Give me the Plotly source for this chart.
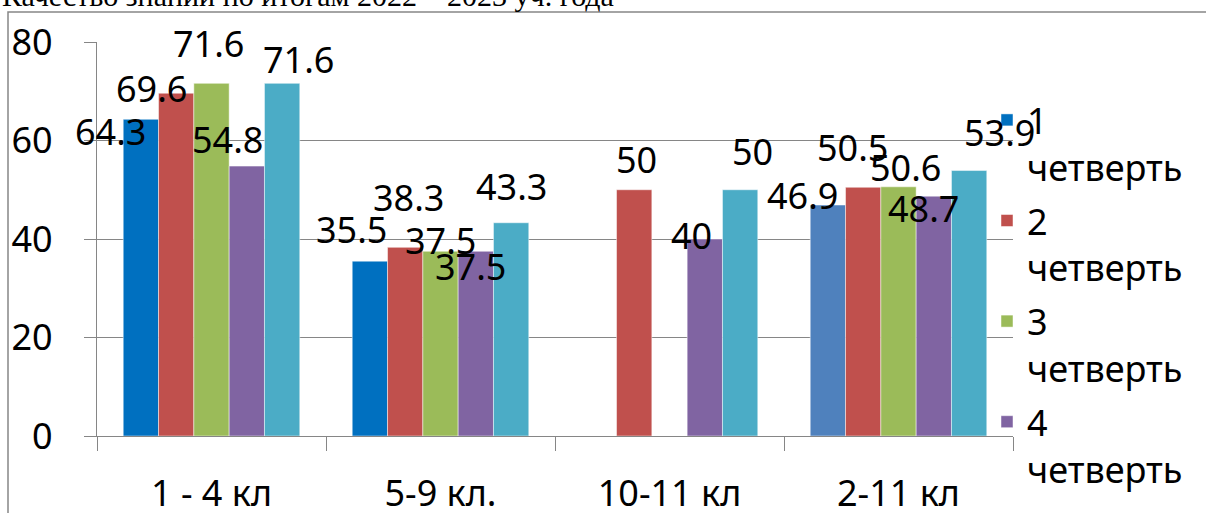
import plotly.graph_objects as go

categories = ["1 - 4 кл", "5-9 кл.", "10-11 кл", "2-11 кл"]
series_names = ["1 четверть", "2 четверть", "3 четверть", "4 четверть", "год"]
q1 = [64.3, 35.5, None, 46.9]
q2 = [69.6, 38.3, 50, 50.5]
q3 = [71.6, 37.5, None, 50.6]
q4 = [54.8, 37.5, 40, 48.7]
year = [71.6, 43.3, 50, 53.9]
values = [q1, q2, q3, q4, year]

title_text = "Качество знаний по итогам 2022 – 2023 уч. года"

# styles
q1_colors = ["#0070C0", "#0070C0", "#0070C0", "#4F81BD"]
colors = [q1_colors, "#C0504D", "#9BBB59", "#8064A2", "#4BACC6"]
FONT = "Noto Sans"
FS = 36
GRID = "#868686"
BARGAP = 0.229

# label displacement (px, screen: +x right, +y down) relative to bar top centre
label_offsets = [
    [(-30, 12), (-18, -32), None, (-25, -10)],
    [(-25, -5), (3, -50), (2, -30), (-11, -40)],
    [(-3, -40), (0, -11), None, (7, -19)],
    [(-19, -27), (-5, 15), (-13, -4), (-10, 12)],
    [(16, -24), (0, -36), (12, -38), (30, -38)],
]

# layout geometry (page px)
W, H = 1206, 513
PLOT_L, PLOT_R = 97, 1013
PAPER_T, PAPER_B = 2, 511
Y0_PX, Y80_PX = 436, 42


def px(sx):
    return (sx - PLOT_L) / (PLOT_R - PLOT_L)


def py(sy):
    return (PAPER_B - sy) / (PAPER_B - PAPER_T)


fig = go.Figure()
n = len(values)
for i, (name, vals) in enumerate(zip(series_names, values)):
    fig.add_trace(go.Bar(
        x=categories, y=vals, name=name.replace(" ", "<br>"),
        marker=dict(color=colors[i], line=dict(color="rgba(255,255,255,0.6)", width=0.8)),
        showlegend=(i < 4), legendgroup=f"g{i}",
    ))

bw = (1 - BARGAP) / n
annotations = []
for i, vals in enumerate(values):
    for j, v in enumerate(vals):
        if v is None:
            continue
        dx, dy = label_offsets[i][j]
        annotations.append(dict(
            x=j + (i - (n - 1) / 2) * bw, y=v, xref="x", yref="y",
            text=f"{v:g}", showarrow=False, xshift=dx, yshift=-dy,
            font=dict(family=FONT, size=FS, color="black"),
            xanchor="center", yanchor="middle",
        ))

annotations.append(dict(
    x=px(0), y=py(-4.5), xref="paper", yref="paper", text=title_text,
    showarrow=False, xanchor="left", yanchor="middle",
    font=dict(family="Liberation Serif", size=30, color="black"),
))

fig.update_layout(
    width=W, height=H,
    margin=dict(l=PLOT_L, r=W - PLOT_R, t=PAPER_T, b=H - PAPER_B, autoexpand=False),
    paper_bgcolor="white", plot_bgcolor="white",
    barmode="group", bargap=BARGAP, bargroupgap=0,
    font=dict(family=FONT, size=FS, color="black"),
    annotations=annotations,
    legend=dict(
        x=px(987), xanchor="left", y=py(90), yanchor="top",
        font=dict(family=FONT, size=FS, color="black"),
        valign="top", tracegroupgap=4, bgcolor="rgba(0,0,0,0)",
        traceorder="grouped",
    ),
    shapes=[dict(
        type="rect", xref="paper", yref="paper",
        x0=px(8), x1=px(1215), y0=py(520), y1=py(12),
        line=dict(color=GRID, width=1.5), fillcolor="rgba(0,0,0,0)", layer="below",
    )],
    xaxis=dict(
        type="category", range=[-0.5, 3.5], showline=True, linecolor=GRID, linewidth=1.3,
        ticks="outside", tickson="boundaries", ticklen=14, tickcolor=GRID, tickwidth=1.3,
        tickfont=dict(family=FONT, size=FS, color="black"), ticklabelstandoff=26,
        showgrid=False, zeroline=False, automargin=False,
    ),
    yaxis=dict(
        range=[0, 80], dtick=20, domain=[py(Y0_PX), py(Y80_PX)],
        showgrid=True, gridcolor=GRID, gridwidth=1.3,
        showline=True, linecolor=GRID, linewidth=1.3,
        ticks="outside", ticklen=12, tickcolor=GRID, tickwidth=1.3,
        tickfont=dict(family=FONT, size=FS, color="black"), ticklabelstandoff=24,
        zeroline=False, automargin=False,
    ),
)

fig.write_html("out.html", config={"displayModeBar": False},
               post_script="document.body.style.margin='0';")
